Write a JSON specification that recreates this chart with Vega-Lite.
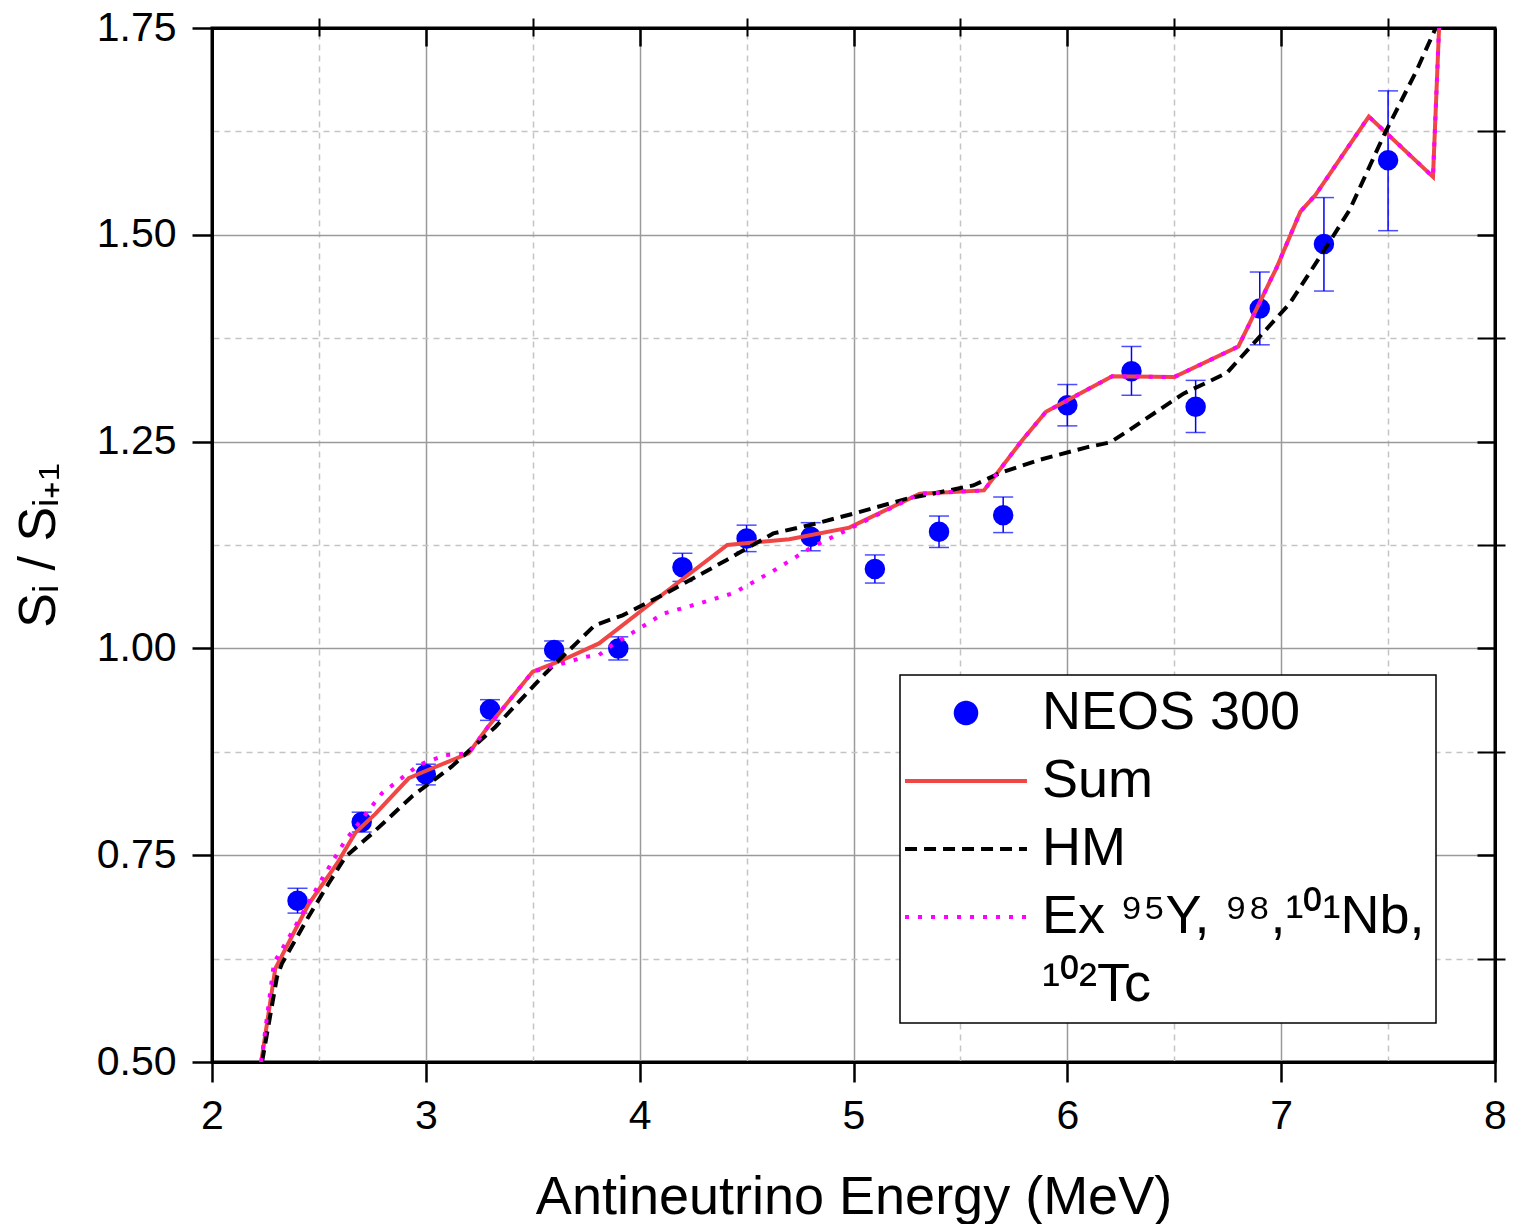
{
  "$schema": "https://vega.github.io/schema/vega-lite/v6.json",
  "width": 1283,
  "height": 1034,
  "autosize": {"type": "none"},
  "padding": {"left": 212, "top": 28, "right": 39, "bottom": 162},
  "background": "white",
  "config": {
    "view": {"stroke": "black", "strokeWidth": 3},
    "font": "Liberation Sans",
    "axis": {"labelFont": "Liberation Sans", "titleFont": "Liberation Sans", "labelColor": "black", "titleColor": "black", "titleFontWeight": "normal"},
    "legend": {"strokeWidth": 1.5}
  },
  "datasets": {
    "points": [
      {"series": "NEOS 300", "E": 2.4, "v": 0.695, "lo": 0.680, "hi": 0.710},
      {"series": "NEOS 300", "E": 2.7, "v": 0.790, "lo": 0.778, "hi": 0.802},
      {"series": "NEOS 300", "E": 3.0, "v": 0.848, "lo": 0.835, "hi": 0.860},
      {"series": "NEOS 300", "E": 3.3, "v": 0.926, "lo": 0.913, "hi": 0.938},
      {"series": "NEOS 300", "E": 3.6, "v": 0.998, "lo": 0.985, "hi": 1.009},
      {"series": "NEOS 300", "E": 3.9, "v": 1.000, "lo": 0.986, "hi": 1.014},
      {"series": "NEOS 300", "E": 4.2, "v": 1.098, "lo": 1.081, "hi": 1.115},
      {"series": "NEOS 300", "E": 4.5, "v": 1.133, "lo": 1.117, "hi": 1.149},
      {"series": "NEOS 300", "E": 4.8, "v": 1.135, "lo": 1.118, "hi": 1.152},
      {"series": "NEOS 300", "E": 5.1, "v": 1.096, "lo": 1.079, "hi": 1.113},
      {"series": "NEOS 300", "E": 5.4, "v": 1.141, "lo": 1.122, "hi": 1.160},
      {"series": "NEOS 300", "E": 5.7, "v": 1.161, "lo": 1.140, "hi": 1.183},
      {"series": "NEOS 300", "E": 6.0, "v": 1.294, "lo": 1.269, "hi": 1.319},
      {"series": "NEOS 300", "E": 6.3, "v": 1.335, "lo": 1.306, "hi": 1.365},
      {"series": "NEOS 300", "E": 6.6, "v": 1.292, "lo": 1.261, "hi": 1.324},
      {"series": "NEOS 300", "E": 6.9, "v": 1.411, "lo": 1.367, "hi": 1.455},
      {"series": "NEOS 300", "E": 7.2, "v": 1.489, "lo": 1.432, "hi": 1.545},
      {"series": "NEOS 300", "E": 7.5, "v": 1.590, "lo": 1.505, "hi": 1.674}
    ],
    "lines": [
      {"series": "Sum", "E": 2.23, "v": 0.50},
      {"series": "Sum", "E": 2.296, "v": 0.613},
      {"series": "Sum", "E": 2.45, "v": 0.69},
      {"series": "Sum", "E": 2.585, "v": 0.74},
      {"series": "Sum", "E": 2.67, "v": 0.777},
      {"series": "Sum", "E": 2.764, "v": 0.80},
      {"series": "Sum", "E": 2.92, "v": 0.843},
      {"series": "Sum", "E": 3.01, "v": 0.853},
      {"series": "Sum", "E": 3.2, "v": 0.873},
      {"series": "Sum", "E": 3.29, "v": 0.905},
      {"series": "Sum", "E": 3.5, "v": 0.972},
      {"series": "Sum", "E": 3.64, "v": 0.986},
      {"series": "Sum", "E": 3.81, "v": 1.006},
      {"series": "Sum", "E": 4.03, "v": 1.05},
      {"series": "Sum", "E": 4.41, "v": 1.125},
      {"series": "Sum", "E": 4.70, "v": 1.132},
      {"series": "Sum", "E": 4.98, "v": 1.146},
      {"series": "Sum", "E": 5.31, "v": 1.187},
      {"series": "Sum", "E": 5.61, "v": 1.191},
      {"series": "Sum", "E": 5.79, "v": 1.252},
      {"series": "Sum", "E": 5.90, "v": 1.286},
      {"series": "Sum", "E": 6.21, "v": 1.329},
      {"series": "Sum", "E": 6.50, "v": 1.328},
      {"series": "Sum", "E": 6.80, "v": 1.365},
      {"series": "Sum", "E": 6.98, "v": 1.461},
      {"series": "Sum", "E": 7.09, "v": 1.528},
      {"series": "Sum", "E": 7.16, "v": 1.548},
      {"series": "Sum", "E": 7.41, "v": 1.643},
      {"series": "Sum", "E": 7.71, "v": 1.570},
      {"series": "Sum", "E": 7.74, "v": 1.76},
      {"series": "HM", "E": 2.234, "v": 0.50},
      {"series": "HM", "E": 2.304, "v": 0.603},
      {"series": "HM", "E": 2.327, "v": 0.619},
      {"series": "HM", "E": 2.452, "v": 0.676},
      {"series": "HM", "E": 2.546, "v": 0.716},
      {"series": "HM", "E": 2.624, "v": 0.748},
      {"series": "HM", "E": 2.748, "v": 0.776},
      {"series": "HM", "E": 2.935, "v": 0.821},
      {"series": "HM", "E": 3.12, "v": 0.857},
      {"series": "HM", "E": 3.325, "v": 0.905},
      {"series": "HM", "E": 3.56, "v": 0.97},
      {"series": "HM", "E": 3.79, "v": 1.028},
      {"series": "HM", "E": 3.92, "v": 1.04},
      {"series": "HM", "E": 4.126, "v": 1.067},
      {"series": "HM", "E": 4.407, "v": 1.107},
      {"series": "HM", "E": 4.625, "v": 1.139},
      {"series": "HM", "E": 4.81, "v": 1.150},
      {"series": "HM", "E": 5.03, "v": 1.165},
      {"series": "HM", "E": 5.25, "v": 1.181},
      {"series": "HM", "E": 5.37, "v": 1.187},
      {"series": "HM", "E": 5.56, "v": 1.197},
      {"series": "HM", "E": 5.685, "v": 1.212},
      {"series": "HM", "E": 5.87, "v": 1.228},
      {"series": "HM", "E": 6.09, "v": 1.243},
      {"series": "HM", "E": 6.2, "v": 1.249},
      {"series": "HM", "E": 6.278, "v": 1.262},
      {"series": "HM", "E": 6.543, "v": 1.308},
      {"series": "HM", "E": 6.746, "v": 1.333},
      {"series": "HM", "E": 6.886, "v": 1.373},
      {"series": "HM", "E": 7.04, "v": 1.417},
      {"series": "HM", "E": 7.213, "v": 1.486},
      {"series": "HM", "E": 7.32, "v": 1.530},
      {"series": "HM", "E": 7.478, "v": 1.619},
      {"series": "HM", "E": 7.634, "v": 1.699},
      {"series": "HM", "E": 7.74, "v": 1.76},
      {"series": "Ex", "E": 2.23, "v": 0.50},
      {"series": "Ex", "E": 2.29, "v": 0.62},
      {"series": "Ex", "E": 2.374, "v": 0.657},
      {"series": "Ex", "E": 2.52, "v": 0.724},
      {"series": "Ex", "E": 2.624, "v": 0.768},
      {"series": "Ex", "E": 2.795, "v": 0.825},
      {"series": "Ex", "E": 2.967, "v": 0.859},
      {"series": "Ex", "E": 3.09, "v": 0.871},
      {"series": "Ex", "E": 3.2, "v": 0.873},
      {"series": "Ex", "E": 3.29, "v": 0.905},
      {"series": "Ex", "E": 3.5, "v": 0.972},
      {"series": "Ex", "E": 3.56, "v": 0.976},
      {"series": "Ex", "E": 3.75, "v": 0.99},
      {"series": "Ex", "E": 3.81, "v": 0.992},
      {"series": "Ex", "E": 3.86, "v": 1.002},
      {"series": "Ex", "E": 3.986, "v": 1.022},
      {"series": "Ex", "E": 4.11, "v": 1.042},
      {"series": "Ex", "E": 4.30, "v": 1.056},
      {"series": "Ex", "E": 4.44, "v": 1.067},
      {"series": "Ex", "E": 4.62, "v": 1.093},
      {"series": "Ex", "E": 4.81, "v": 1.123},
      {"series": "Ex", "E": 5.0, "v": 1.147},
      {"series": "Ex", "E": 5.31, "v": 1.187},
      {"series": "Ex", "E": 5.61, "v": 1.191},
      {"series": "Ex", "E": 5.79, "v": 1.252},
      {"series": "Ex", "E": 5.90, "v": 1.286},
      {"series": "Ex", "E": 6.21, "v": 1.329},
      {"series": "Ex", "E": 6.50, "v": 1.328},
      {"series": "Ex", "E": 6.80, "v": 1.365},
      {"series": "Ex", "E": 6.98, "v": 1.461},
      {"series": "Ex", "E": 7.09, "v": 1.528},
      {"series": "Ex", "E": 7.16, "v": 1.548},
      {"series": "Ex", "E": 7.41, "v": 1.643},
      {"series": "Ex", "E": 7.71, "v": 1.570},
      {"series": "Ex", "E": 7.74, "v": 1.76}
    ]
  },
  "resolve": {"axis": {"x": "independent", "y": "independent"}},
  "layer": [
    {
      "data": {"name": "points"},
      "mark": {"type": "rule", "color": "blue", "strokeWidth": 1.5},
      "encoding": {
        "x": {"field": "E", "type": "quantitative", "scale": {"domain": [2, 8], "nice": false, "zero": false},
          "axis": {"values": [2, 3, 4, 5, 6, 7, 8], "format": "d", "title": "Antineutrino Energy (MeV)", "titleFontSize": 54, "titleY": 151, "titleBaseline": "alphabetic",
            "labelFontSize": 41, "labelPadding": 14, "labelFlush": false, "labelOverlap": false,
            "tickSize": 20, "tickWidth": 2.5, "tickColor": "black", "domain": true, "domainColor": "black", "domainWidth": 3,
            "grid": true, "gridColor": "#9a9a9a", "gridWidth": 1.5,
            "gridOpacity": {"condition": {"test": "datum.value <= 2 || datum.value >= 8", "value": 0}, "value": 1}}},
        "y": {"field": "lo", "type": "quantitative", "scale": {"domain": [0.5, 1.75], "nice": false, "zero": false},
          "axis": {"values": [0.5, 0.75, 1, 1.25, 1.5, 1.75], "format": ".2f", "title": "Sᵢ / Sᵢ₊₁", "titleFontSize": 52, "titleX": -158, "titleBaseline": "alphabetic",
            "labelFontSize": 41, "labelPadding": 16, "labelFlush": false, "labelOverlap": false,
            "tickSize": 20, "tickWidth": 2.5, "tickColor": "black", "domain": true, "domainColor": "black", "domainWidth": 3,
            "grid": true, "gridColor": "#9a9a9a", "gridWidth": 1.5,
            "gridOpacity": {"condition": {"test": "datum.value <= 0.5 || datum.value >= 1.75", "value": 0}, "value": 1}}},
        "y2": {"field": "hi"}
      }
    },
    {
      "data": {"name": "points"},
      "mark": {"type": "tick", "orient": "horizontal", "size": 20, "thickness": 1.5, "color": "blue"},
      "encoding": {
        "x": {"field": "E", "type": "quantitative", "axis": null},
        "y": {"field": "lo", "type": "quantitative", "axis": null}
      }
    },
    {
      "data": {"name": "points"},
      "mark": {"type": "tick", "orient": "horizontal", "size": 20, "thickness": 1.5, "color": "blue"},
      "encoding": {
        "x": {"field": "E", "type": "quantitative", "axis": null},
        "y": {"field": "hi", "type": "quantitative", "axis": null}
      }
    },
    {
      "data": {"name": "points"},
      "mark": {"type": "circle", "size": 420, "opacity": 1},
      "encoding": {
        "x": {"field": "E", "type": "quantitative",
          "axis": {"values": [2.5, 3.5, 4.5, 5.5, 6.5, 7.5], "labels": false, "title": null, "domain": false,
            "tickSize": 10, "tickWidth": 2, "tickColor": "black", "grid": true, "gridColor": "#c4c4c4", "gridDash": [6, 5], "gridWidth": 1.5}},
        "y": {"field": "v", "type": "quantitative",
          "axis": {"values": [0.625, 0.875, 1.125, 1.375, 1.625], "labels": false, "title": null, "domain": false,
            "tickSize": 10, "tickWidth": 2, "tickColor": "black", "grid": true, "gridColor": "#c4c4c4", "gridDash": [6, 5], "gridWidth": 1.5}},
        "color": {"field": "series", "type": "nominal",
          "scale": {"domain": ["NEOS 300", "Sum", "HM", "Ex", "Tc"], "range": ["#0000ff", "#f04646", "#000000", "#ff00ff", "#ffffff"]},
          "legend": {"orient": "none", "legendX": 688, "legendY": 647, "title": null,
            "labelFont": "Liberation Sans", "labelFontSize": 54, "labelColor": "black", "labelLimit": 0, "labelOffset": 49,
            "symbolSize": 420, "symbolOffset": 28, "symbolStrokeWidth": 4, "symbolType": "circle", "rowPadding": 14, "padding": 11,
            "strokeColor": "black", "fillColor": "white",
            "labelExpr": "datum.value === 'Ex' ? 'Ex ⁹⁵Y, ⁹⁸,¹⁰¹Nb,' : datum.value === 'Tc' ? '¹⁰²Tc' : datum.label",
            "encoding": {"symbols": {
              "shape": {"value": {"expr": "datum.value === 'NEOS 300' ? 'circle' : 'M-5.95,0H5.95'"}},
              "fill": {"value": {"expr": "datum.value === 'NEOS 300' ? '#0000ff' : 'transparent'"}},
              "stroke": {"value": {"expr": "datum.value === 'Sum' ? '#f04646' : datum.value === 'HM' ? '#000000' : datum.value === 'Ex' ? '#ff00ff' : 'transparent'"}},
              "strokeDash": {"value": {"expr": "datum.value === 'HM' ? [12, 7] : datum.value === 'Ex' ? [4, 9] : [1, 0]"}},
              "strokeWidth": {"value": 4}
            }}}}
      }
    },
    {
      "data": {"name": "lines"},
      "transform": [{"filter": "datum.series === 'Sum'"}],
      "mark": {"type": "line", "strokeWidth": 4, "clip": true},
      "encoding": {
        "x": {"field": "E", "type": "quantitative",
          "axis": {"orient": "top", "values": [2, 3, 4, 5, 6, 7, 8], "labels": false, "title": null, "domain": true, "domainColor": "black", "domainWidth": 3,
            "tickSize": -18, "tickWidth": 2.5, "tickColor": "black", "grid": false}},
        "y": {"field": "v", "type": "quantitative",
          "axis": {"orient": "right", "values": [0.5, 0.75, 1, 1.25, 1.5, 1.75], "labels": false, "title": null, "domain": true, "domainColor": "black", "domainWidth": 3,
            "tickSize": -18, "tickWidth": 2.5, "tickColor": "black", "grid": false}},
        "color": {"field": "series", "type": "nominal"}
      }
    },
    {
      "data": {"name": "lines"},
      "transform": [{"filter": "datum.series === 'HM'"}],
      "mark": {"type": "line", "strokeWidth": 4, "strokeDash": [12, 7], "clip": true},
      "encoding": {
        "x": {"field": "E", "type": "quantitative",
          "axis": {"orient": "top", "values": [2.5, 3.5, 4.5, 5.5, 6.5, 7.5], "labels": false, "title": null, "domain": false,
            "tickSize": -8, "tickWidth": 2, "tickColor": "black", "grid": false}},
        "y": {"field": "v", "type": "quantitative",
          "axis": {"orient": "right", "values": [0.625, 0.875, 1.125, 1.375, 1.625], "labels": false, "title": null, "domain": false,
            "tickSize": -18, "tickWidth": 2, "tickColor": "black", "grid": false}},
        "color": {"field": "series", "type": "nominal"}
      }
    },
    {
      "data": {"name": "lines"},
      "transform": [{"filter": "datum.series === 'Ex'"}],
      "mark": {"type": "line", "strokeWidth": 4, "strokeDash": [4, 9], "clip": true},
      "encoding": {
        "x": {"field": "E", "type": "quantitative", "axis": null},
        "y": {"field": "v", "type": "quantitative", "axis": null},
        "color": {"field": "series", "type": "nominal"}
      }
    }
  ]
}
